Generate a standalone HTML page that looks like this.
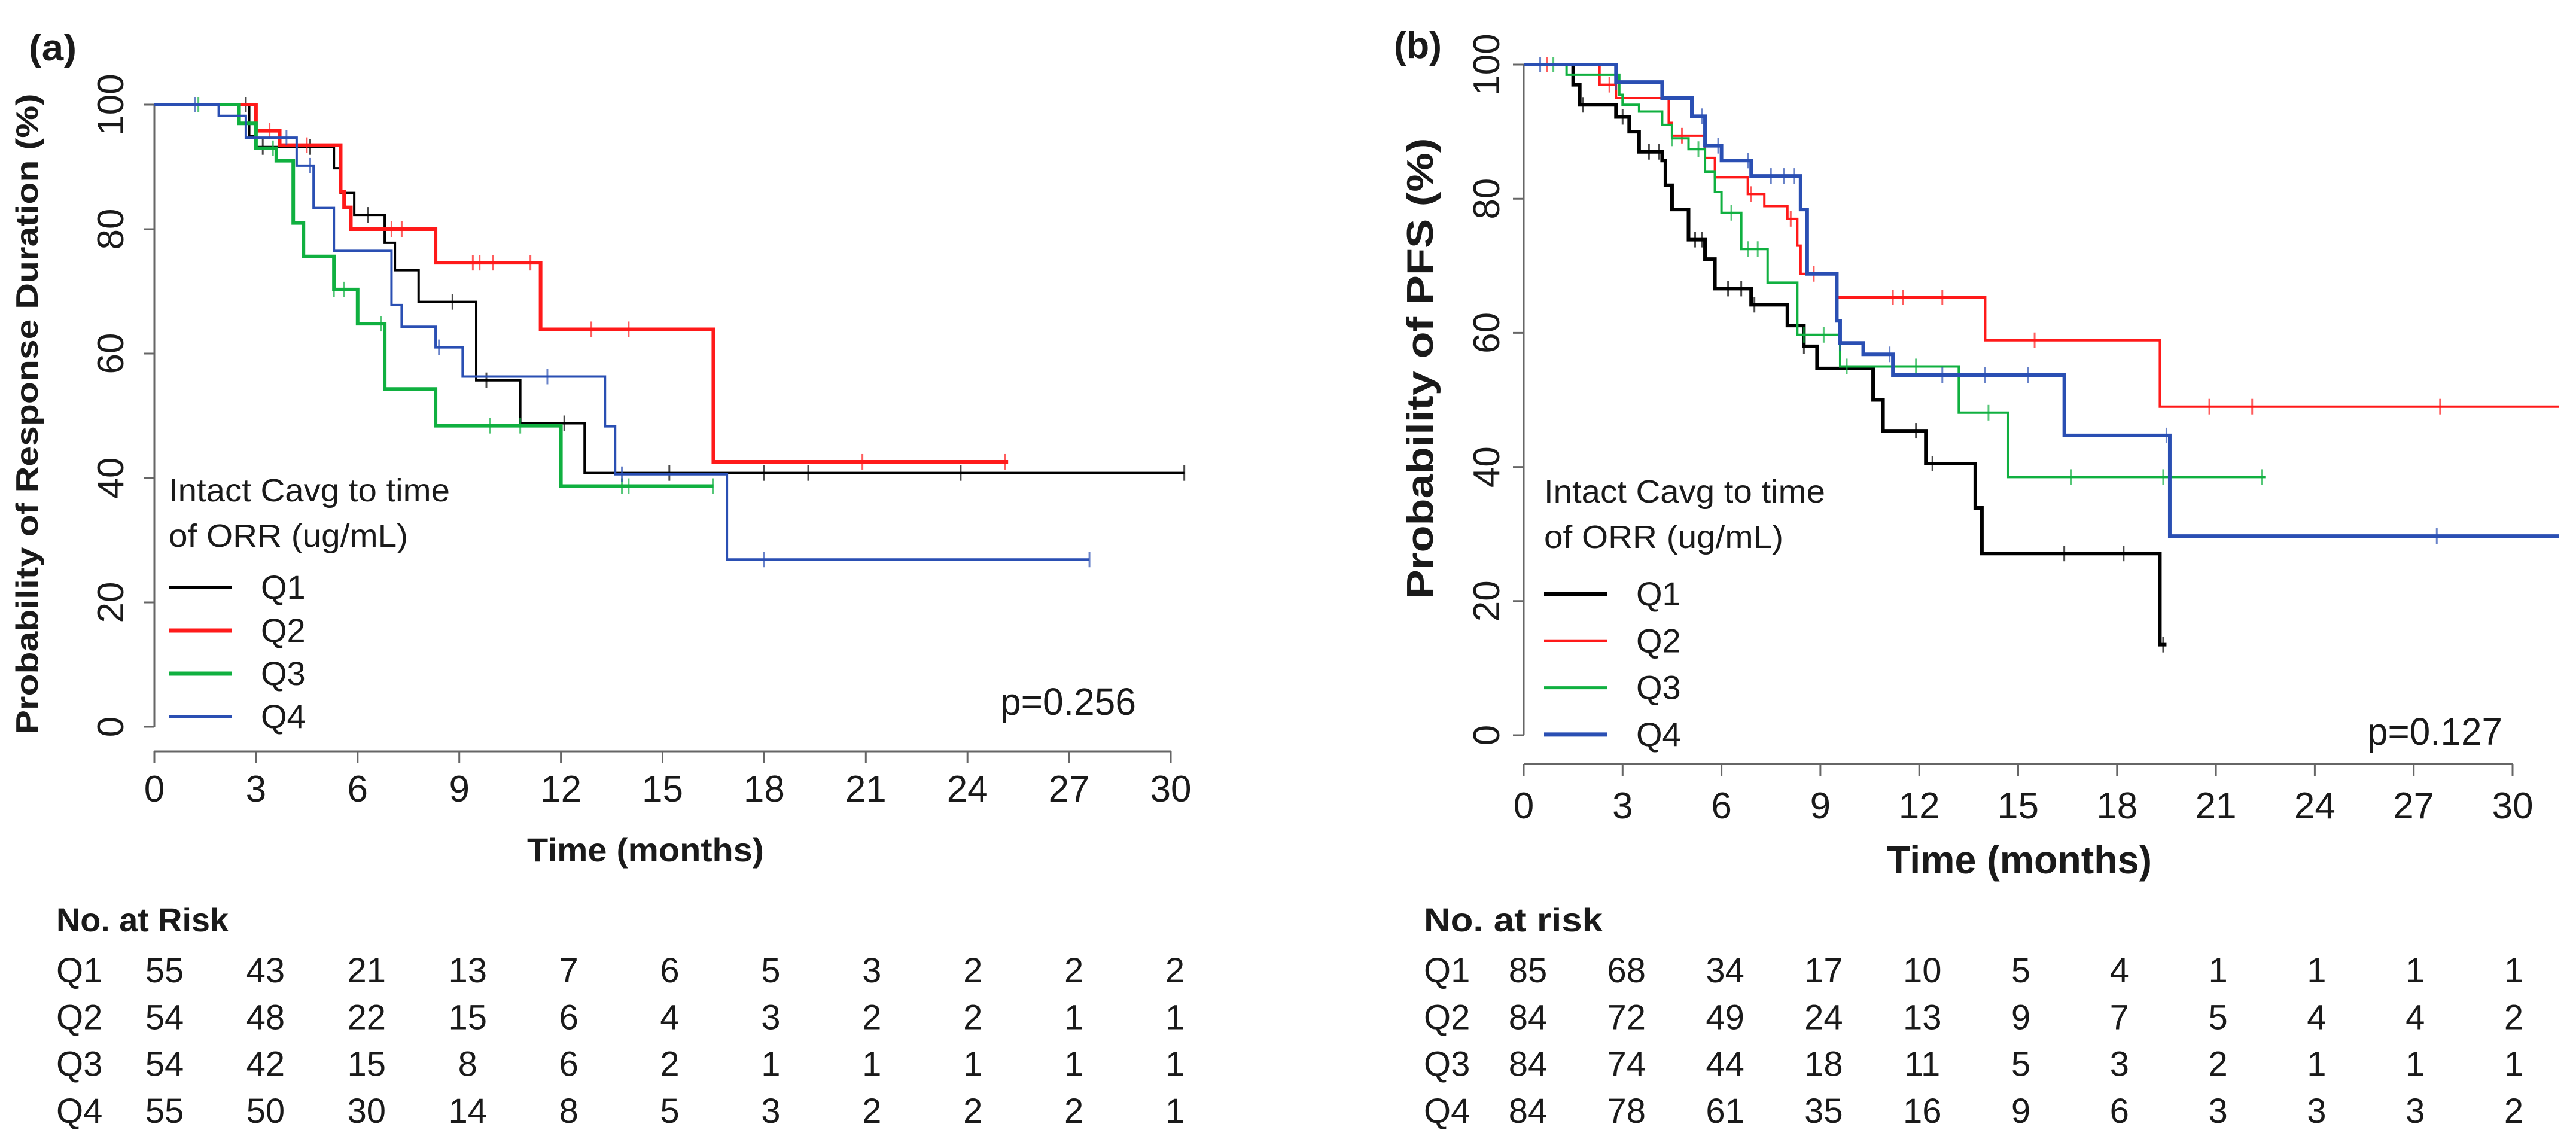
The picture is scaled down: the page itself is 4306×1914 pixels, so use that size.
<!DOCTYPE html>
<html><head><meta charset="utf-8"><style>
html,body{margin:0;padding:0;background:#fff;}
svg{display:block;}
text{font-family:"Liberation Sans",Arial,sans-serif;fill:#1a1a1a;}
.b{font-weight:bold;}
</style></head><body>
<svg id="svg" width="4306" height="1914" viewBox="0 0 4306 1914" xmlns="http://www.w3.org/2000/svg"></svg>
<script>
// Panel (a) data: step points [time, survival%]
const aQ1 = [[0,100],[2.8,95],[3.0,93.2],[5.3,89.8],[5.5,85.8],[5.9,82.3],[6.8,77.8],[7.1,73.4],[7.8,68.3],[9.5,55.7],[10.8,48.8],[12.7,40.8],[30.4,40.8]];
const aQ2 = [[0,100],[3.0,95.8],[3.7,93.5],[5.5,86],[5.6,83.5],[5.8,80],[8.3,74.6],[11.4,63.9],[16.5,42.6],[25.2,42.6]];
const aQ3 = [[0,100],[2.5,97],[3.0,93],[3.6,91],[4.1,81],[4.4,75.6],[5.3,70.3],[6.0,64.8],[6.8,54.3],[8.3,48.4],[12.0,38.7],[16.5,38.7]];
const aQ4 = [[0,100],[1.9,98.2],[2.7,94.7],[4.2,90.2],[4.7,83.4],[5.3,76.5],[7.0,67.8],[7.3,64.3],[8.3,61],[9.1,56.3],[13.3,48.3],[13.6,40.6],[16.9,26.9],[27.6,26.9]];
const aCens1 = [2.7,3.2,4.6,6.3,8.8,9.8,12.1,15.2,18,19.3,23.8,30.4];
const aCens2 = [3.4,4.5,7.0,7.3,9.4,9.6,10,11.1,12.9,14,20.9,25.1];
const aCens3 = [1.3,3.5,5.3,5.6,6.7,9.9,10.8,13.8,14,16.5];
const aCens4 = [1.2,3.9,4.6,8.4,11.6,13.8,18,27.6];
// Panel (b) data
const bQ1 = [[0,100],[1.5,97],[1.7,94],[2.8,92.2],[3.2,90],[3.5,87],[4.2,85.7],[4.3,82],[4.5,78.4],[5.0,73.9],[5.5,71],[5.8,66.6],[6.9,64.2],[8.0,61.1],[8.5,58],[8.9,54.7],[10.6,50],[10.9,45.4],[12.2,40.5],[13.7,33.9],[13.9,27.1],[19.3,13.5],[19.5,13.5]];
const bQ2 = [[0,100],[2.3,97],[2.8,95],[4.4,91.3],[4.5,89.4],[5.5,86.1],[5.8,83.2],[6.8,80.7],[7.3,78.9],[8.0,77],[8.3,73],[8.4,68.8],[9.5,65.3],[14.0,58.9],[19.3,49],[31.4,49]];
const bQ3 = [[0,100],[1.3,98.5],[2.9,95.5],[3.0,94],[3.5,93],[4.2,91],[4.5,89],[5.0,87.4],[5.5,84],[5.8,81],[6.0,77.9],[6.6,72.5],[7.4,67.5],[8.3,59.7],[9.6,55],[13.2,48.1],[14.7,38.5],[22.5,38.5]];
const bQ4 = [[0,100],[2.8,97.4],[4.2,95],[5.1,92.3],[5.5,87.9],[6.0,85.7],[6.9,83.4],[8.4,78.4],[8.6,68.8],[9.5,61.8],[9.6,58.5],[10.3,56.8],[11.2,53.7],[16.4,44.7],[19.6,29.7],[31.4,29.7]];
const bCens1 = [1.8,3.0,3.8,4.1,5.2,5.4,6.2,6.6,7.0,8.5,11.9,12.4,16.4,18.2,19.4];
const bCens2 = [0.7,2.6,4.8,6.9,8.1,8.8,11.2,11.5,12.7,15.5,20.8,22.1,27.8];
const bCens3 = [0.9,4.5,5.3,6.3,6.8,7.1,8.5,9.1,9.8,11.9,14.1,16.6,19.4,22.4];
const bCens4 = [0.5,2.8,5.4,5.9,6.8,7.5,7.9,8.2,9.6,11.1,12.7,14.0,15.3,19.5,27.7];
// Axis ticks & risk tables
const xTicks = [0,3,6,9,12,15,18,21,24,27,30];
const yTicks = [0,20,40,60,80,100];
const riskA = {Q1:[55,43,21,13,7,6,5,3,2,2,2],Q2:[54,48,22,15,6,4,3,2,2,1,1],Q3:[54,42,15,8,6,2,1,1,1,1,1],Q4:[55,50,30,14,8,5,3,2,2,2,1]};
const riskB = {Q1:[85,68,34,17,10,5,4,1,1,1,1],Q2:[84,72,49,24,13,9,7,5,4,4,2],Q3:[84,74,44,18,11,5,3,2,1,1,1],Q4:[84,78,61,35,16,9,6,3,3,3,2]};

const NS="http://www.w3.org/2000/svg";
const svg=document.getElementById('svg');
function mk(tag,attrs,parent,txt){const e=document.createElementNS(NS,tag);for(const k in attrs)e.setAttribute(k,attrs[k]);if(txt!==undefined)e.textContent=txt;(parent||svg).appendChild(e);return e;}
const COLORS={Q1:'#000000',Q2:'#ff1a1a',Q3:'#10b040',Q4:'#2a4fb3'};

function panel(cfg){
  const g=mk('g',{});
  
  
  const sx=t=>cfg.x0+(cfg.x30-cfg.x0)*t/30;
  const sy=v=>cfg.y0+(cfg.y100-cfg.y0)*v/100;
  const ya=mk('line',{x1:cfg.x0,y1:sy(100),x2:cfg.x0,y2:sy(0),stroke:'#666','stroke-width':3},g);
  
  
  yTicks.forEach(v=>{
    mk('line',{x1:cfg.x0-18,y1:sy(v),x2:cfg.x0,y2:sy(v),stroke:'#666','stroke-width':3},g);
    const t=mk('text',{x:cfg.yLabX,y:sy(v)+22,'font-size':62,'text-anchor':'middle',transform:`rotate(-90 ${cfg.yLabX} ${sy(v)})`},g,String(v));
    
    
  });
  const xa=mk('line',{x1:sx(0),y1:cfg.xaxY,x2:sx(30),y2:cfg.xaxY,stroke:'#666','stroke-width':3},g);
  
  
  xTicks.forEach(v=>{
    mk('line',{x1:sx(v),y1:cfg.xaxY,x2:sx(v),y2:cfg.xaxY+20,stroke:'#666','stroke-width':3},g);
    const t=mk('text',{x:sx(v),y:cfg.xLabY,'font-size':62,'text-anchor':'middle'},g,String(v));
    
    
  });
  const xt=mk('text',{x:cfg.xTitleX,y:cfg.xTitleY,'font-size':cfg.xTitleFs,'class':'b',textLength:cfg.xTitleW,lengthAdjust:'spacingAndGlyphs'},g,'Time (months)');
  
  
  const yt=mk('text',{x:cfg.yTitleX,y:cfg.yTitleY,'font-size':cfg.yTitleFs,'text-anchor':'middle','class':'b',textLength:cfg.yTitleW,lengthAdjust:'spacingAndGlyphs',transform:`rotate(-90 ${cfg.yTitleX} ${cfg.yTitleY})`},g,cfg.yTitle);
  
  
  const lab=mk('text',{x:cfg.labX,y:cfg.labY,'font-size':62,'class':'b',textLength:80,lengthAdjust:'spacingAndGlyphs'},g,cfg.label);
  
  
  ['Q1','Q2','Q3','Q4'].forEach(q=>{
    const pts=cfg.series[q];
    let d=`M${sx(pts[0][0])},${sy(pts[0][1])}`;
    for(let i=1;i<pts.length;i++){d+=` H${sx(pts[i][0])} V${sy(pts[i][1])}`;}
    const p=mk('path',{d:d,fill:'none',stroke:COLORS[q],'stroke-width':cfg.sw[q]},g);
    
    
    cfg.cens[q].forEach(t=>{
      let v=pts[0][1];
      for(const pt of pts){if(pt[0]<=t)v=pt[1];}
      const m=mk('line',{x1:sx(t),y1:sy(v)-13,x2:sx(t),y2:sy(v)+13,stroke:COLORS[q],'stroke-width':3,opacity:0.7},g);
      
      
    });
  });
  const lg=mk('g',{},g);
  
  
  mk('text',{x:cfg.legX,y:cfg.legTitleY,'font-size':54,textLength:470,lengthAdjust:'spacingAndGlyphs'},lg,'Intact Cavg to time');
  mk('text',{x:cfg.legX,y:cfg.legTitleY+76,'font-size':54,textLength:400,lengthAdjust:'spacingAndGlyphs'},lg,'of ORR (ug/mL)');
  ['Q1','Q2','Q3','Q4'].forEach((q,i)=>{
    const y=cfg.legRowY+i*cfg.legRowDy;
    const e=mk('g',{},lg);
    
    
    mk('line',{x1:cfg.legX,y1:y,x2:cfg.legX+106,y2:y,stroke:COLORS[q],'stroke-width':cfg.sw[q]+1},e);
    mk('text',{x:cfg.legX+154,y:y+19,'font-size':56},e,q);
  });
  const pv=mk('text',{x:cfg.pX,y:cfg.pY,'font-size':64,textLength:cfg.pW,lengthAdjust:'spacingAndGlyphs'},g,cfg.p);
  
  
  const tb=mk('g',{},g);
  
  
  const th=mk('text',{x:cfg.tabX,y:1557,'font-size':56,'class':'b',textLength:cfg.tabTitleW,lengthAdjust:'spacingAndGlyphs'},tb,cfg.tabTitle);
  
  
  ['Q1','Q2','Q3','Q4'].forEach((q,i)=>{
    const y=1642+i*78.3;
    const r=mk('g',{},tb);
    
    
    mk('text',{x:cfg.tabX,y:y,'font-size':58},r,q);
    cfg.risk[q].forEach((n,j)=>{
      mk('text',{x:cfg.colX0+j*cfg.colDx,y:y,'font-size':58,'text-anchor':'middle'},r,String(n));
    });
  });
}

panel({id:'a',label:'(a)',labX:48,labY:101,x0:258,x30:1957,y0:1215,y100:175,yLabX:184,xaxY:1256,xLabY:1340,
  xTitleX:881,xTitleY:1440,xTitleFs:56,xTitleW:396,yTitleX:63,yTitleY:692,yTitleFs:52,yTitleW:1071,yTitle:'Probability of Response Duration (%)',
  series:{Q1:aQ1,Q2:aQ2,Q3:aQ3,Q4:aQ4},cens:{Q1:aCens1,Q2:aCens2,Q3:aCens3,Q4:aCens4},sw:{Q1:4,Q2:6,Q3:6,Q4:4},
  legX:282,legTitleY:838,legRowY:982,legRowDy:72,pX:1672,pY:1195,pW:227,p:'p=0.256',
  tabX:94,tabTitle:'No. at Risk',tabTitleW:288,risk:riskA,colX0:275,colDx:168.9});
panel({id:'b',label:'(b)',labX:2330,labY:97,x0:2547,x30:4200,y0:1229,y100:108,yLabX:2484,xaxY:1277,xLabY:1368,
  xTitleX:3154,xTitleY:1460,xTitleFs:66,xTitleW:443,yTitleX:2395,yTitleY:616,yTitleFs:62,yTitleW:771,yTitle:'Probability of PFS (%)',
  series:{Q1:bQ1,Q2:bQ2,Q3:bQ3,Q4:bQ4},cens:{Q1:bCens1,Q2:bCens2,Q3:bCens3,Q4:bCens4},sw:{Q1:6,Q2:4,Q3:4,Q4:6},
  legX:2581,legTitleY:840,legRowY:993,legRowDy:78.3,pX:3957,pY:1245,pW:226,p:'p=0.127',
  tabX:2380,tabTitle:'No. at risk',tabTitleW:299,risk:riskB,colX0:2554,colDx:164.8});
</script>
</body></html>
